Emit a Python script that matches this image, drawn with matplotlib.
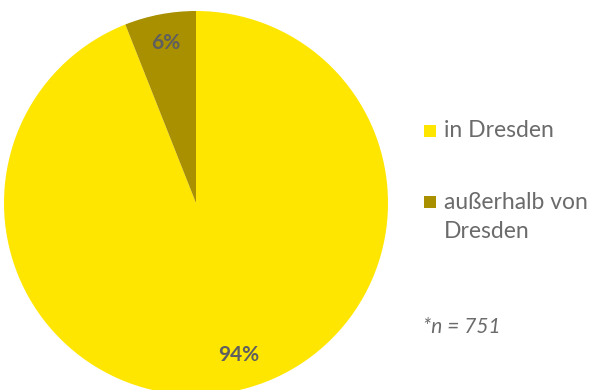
import matplotlib.pyplot as plt
from matplotlib.patches import Rectangle

labels = ['in Dresden', 'außerhalb von\nDresden']
values = [94, 6]
colors = ['#FFE600', '#A99000']
note = '*n = 751'

plt.rcParams['font.family'] = ['Lato', 'DejaVu Sans']
grey = '#5f5f5f'
light_grey = '#6b6b6b'
W, H = 594, 390

fig = plt.figure(figsize=(5.94, 3.9), dpi=100)
# pie sits partly below the bottom edge, like the original
ax = fig.add_axes([4 / W, -5 / H, 384 / W, 384 / H])
wedges, texts, autotexts = ax.pie(values, colors=colors, startangle=90, counterclock=False,
                                  autopct='%d%%', pctdistance=0.85, radius=1,
                                  wedgeprops=dict(linewidth=0),
                                  textprops=dict(color=grey, fontsize=15, fontweight='bold'))
autotexts[0].set_position((0.224, -0.79))
ax.set_xlim(-1, 1)
ax.set_ylim(-1, 1)
ax.set_aspect('equal')
ax.axis('off')

# legend drawn by hand: square next to first line, further lines below
for i, (lab, col) in enumerate(zip(labels, colors)):
    y0 = 131 + i * 71
    fig.patches.append(Rectangle((424 / W, 1 - (y0 + 6) / H), 12 / W, 12 / H,
                                 transform=fig.transFigure, color=col, lw=0))
    for j, line in enumerate(lab.split('\n')):
        fig.text(444 / W, 1 - (y0 + j * 30) / H, line, fontsize=16.5, color=light_grey, va='center')

fig.text(423 / W, 1 - 327 / H, note, fontsize=15, style='italic', color=light_grey, va='center')

fig.savefig('out.png', dpi=100)
